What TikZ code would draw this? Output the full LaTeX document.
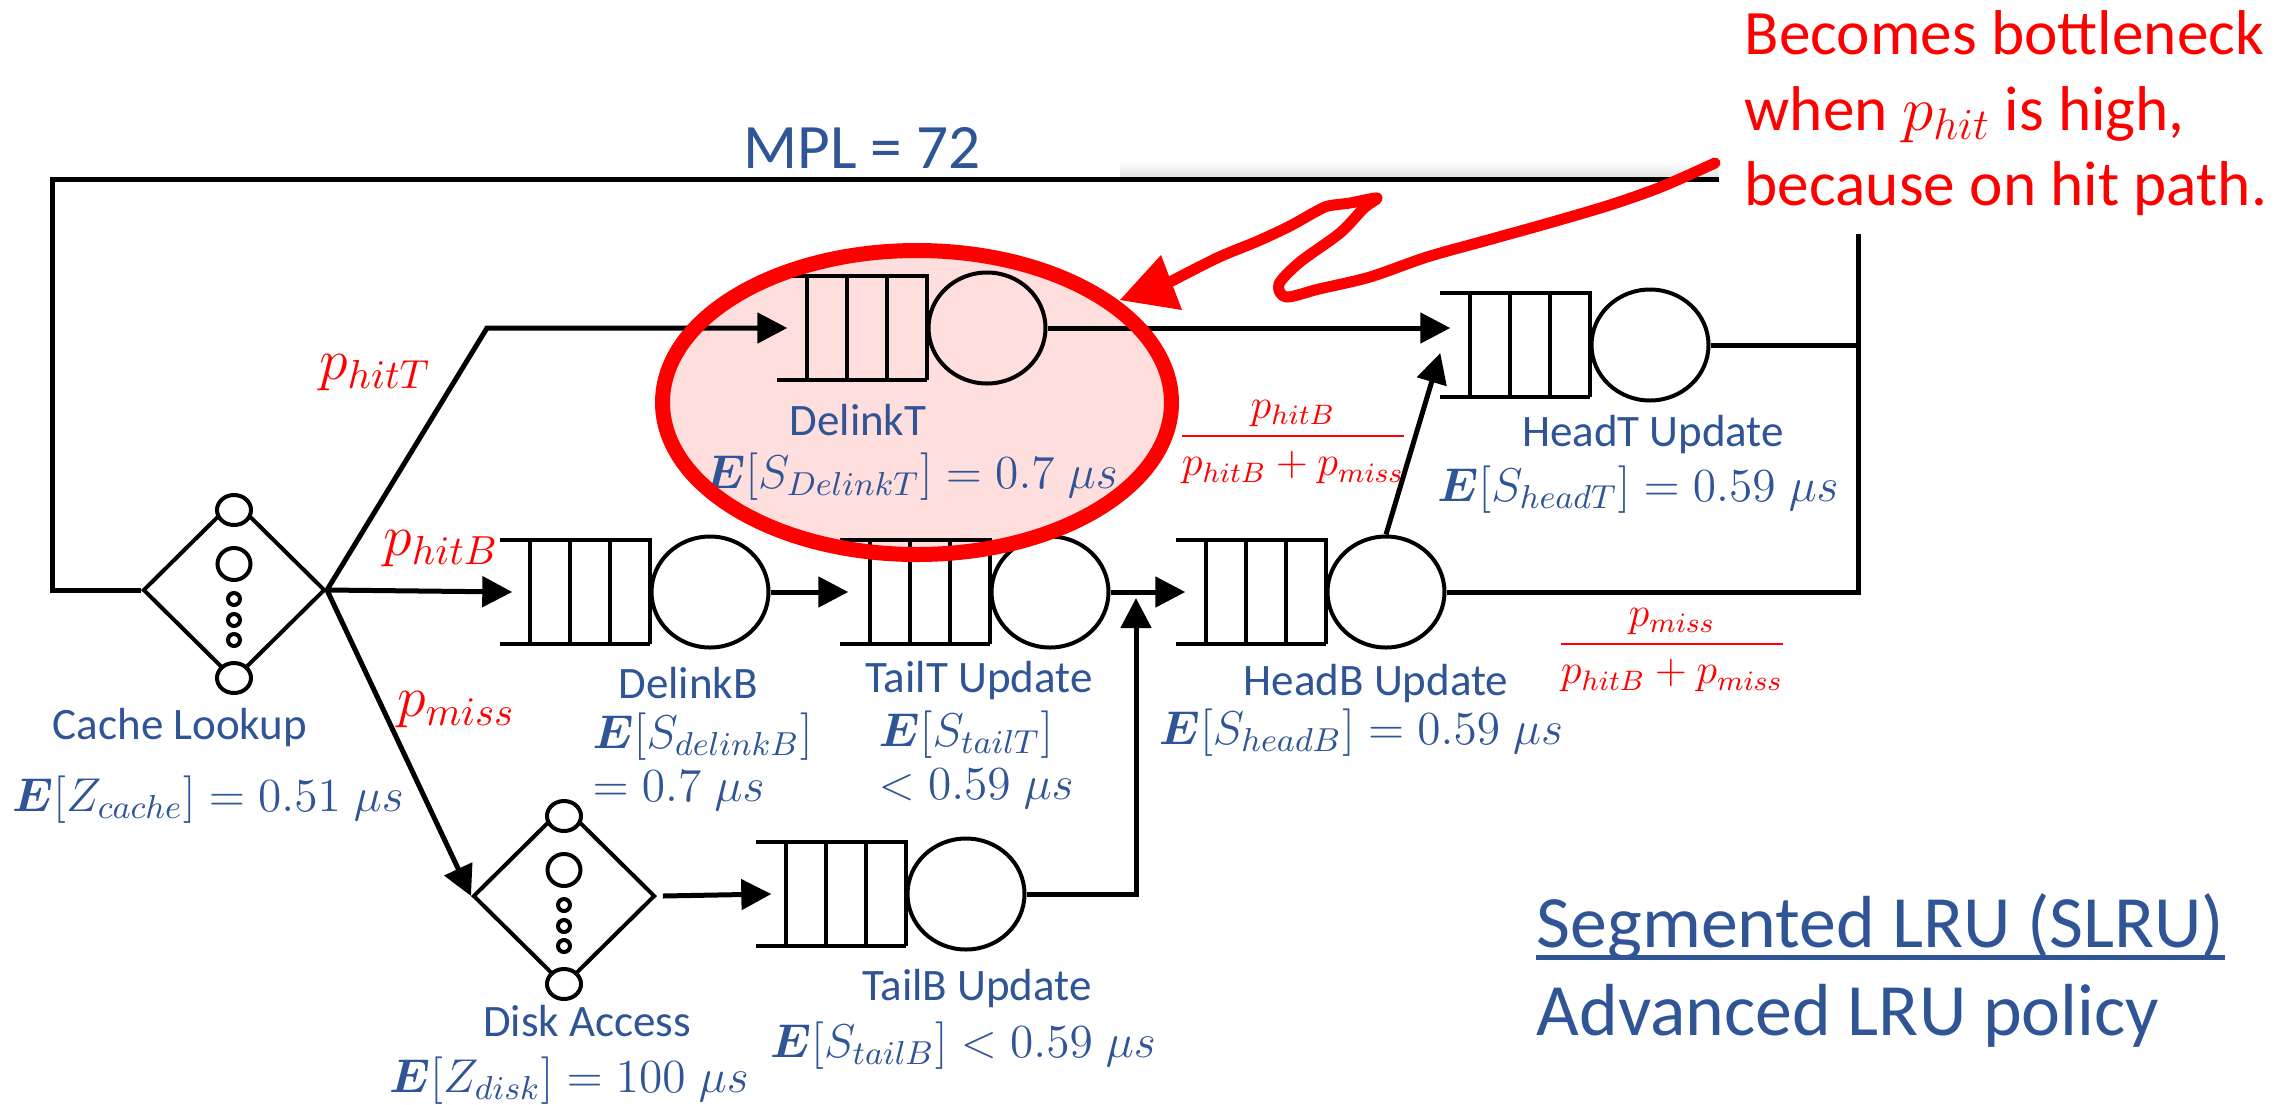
\RequirePackage{fix-cm}
\documentclass[tikz,border=0pt]{standalone}
\usepackage{amsmath}
\usepackage{fontspec}
\setmainfont{Carlito}
\usetikzlibrary{shapes.geometric,arrows.meta,calc}
\definecolor{tblue}{RGB}{47,85,151}
\definecolor{hlpink}{RGB}{255,222,222}
\newcommand{\Ebf}{\boldsymbol{E}}
\tikzset{
  conn/.style={line width=0.5mm},
  arr/.style={-{Triangle[length=3mm,width=3mm]}},
  qline/.style={line width=0.4mm},
  qbox/.style={rectangle,inner sep=0pt,minimum width=14.8mm,minimum height=10.3mm,draw=none},
  server/.style={ellipse,draw,line width=0.4mm,inner sep=0pt,minimum width=11.7mm,minimum height=11.1mm},
  dstation/.style={diamond,draw,line width=0.4mm,inner sep=0pt,minimum width=18.2mm,minimum height=18mm},
  lbl/.style={text=tblue,inner sep=0pt,font=\fontsize{12.8}{15}\selectfont},
  mlbl/.style={text=tblue,inner sep=0pt,font=\fontsize{13.5}{15}\selectfont},
  plbl/.style={text=red,inner sep=0pt,font=\fontsize{16.5}{19}\selectfont},
  flbl/.style={text=red,inner sep=0pt,font=\fontsize{12}{14}\selectfont},
  annot/.style={draw=red,line width=1.1mm,line cap=round,line join=round},
}
% queue station: name, left x of queue, centre y
\newcommand{\qstation}[3]{%
  \node[qbox] (#1q) at ({#2+74},{#3}) {};
  \draw[qline] (#1q.north west) -- (#1q.north east) -- (#1q.south east)
               (#1q.south west) -- (#1q.south east);
  \foreach \d in {30,70,110} {\draw[qline] ([xshift=\d*0.1mm]#1q.north west) -- ([xshift=\d*0.1mm]#1q.south west);}
  \node[server] (#1s) at ({#2+209},{#3}) {};
}
% delay station (diamond): name, centre x, centre y
\newcommand{\dlstation}[3]{%
  \node[dstation] (#1) at (#2,#3) {};
  \foreach \dy/\rx/\ry in {-80/1.7mm/1.5mm,-26/1.65mm/1.6mm,9/0.6mm/0.6mm,30/0.6mm/0.6mm,50/0.6mm/0.6mm,88/1.7mm/1.5mm}
    {\draw[qline,fill=white] (#2,{#3+\dy}) ellipse [x radius=\rx, y radius=\ry];}
}
\begin{document}
\begin{tikzpicture}[x=0.1mm,y=-0.1mm]
\useasboundingbox (0,0) rectangle (2295,1104);
\fill[white] (0,0) rectangle (2295,1104);
% faint shadow above the loop line
\shade[top color=white,bottom color=black!10] (1120,162) rectangle (1719,176);
% highlight fill (behind)
\fill[hlpink] (917,402.5) ellipse [x radius=25.45mm, y radius=15.2mm];

% stations
\dlstation{cache}{234}{590}
\dlstation{disk}{564}{896}
\qstation{delinkT}{778}{328}
\qstation{delinkB}{501}{592}
\qstation{tailT}{841}{592}
\qstation{headB}{1177}{592}
\qstation{headT}{1441}{345}
\qstation{tailB}{757}{894}

% helper coordinates
\coordinate (ttop) at (1719,179);
\coordinate (ltop) at (52,179);
\coordinate (rtop) at (1858,234);
\coordinate (bendT) at (487,328);
\coordinate (joinB) at (1136,592);
\coordinate (hTin) at (delinkTs.east -| headTq.west);

% connectors
\draw[conn] (ttop) -- (ltop) |- (cache.west);
\draw[conn,arr] (cache.east) -- (bendT) -- ($(delinkTq.west)+(10,0)$);
\draw[conn,arr] (cache.east) -- ($(delinkBq.west)+(12,0)$);
\draw[conn,arr] (cache.east) -- (disk.west);
\draw[conn,arr] (delinkBs.east) -- ($(tailTq.west)+(8,0)$);
\draw[conn,arr] (tailTs.east) -- ($(headBq.west)+(9,0)$);
\draw[conn,arr] (tailBs.east) -| ($(joinB)+(0,6)$);
\draw[conn,arr] ($(disk.east)+(6,0)$) -- ($(tailBq.west)+(15,0)$);
\draw[conn,arr] (delinkTs.east) -- ($(hTin)+(10,0)$);
\draw[conn,arr] (headBs.north) -- ($(headTq.west)+(0,8)$);
\draw[conn] (headTs.east) -- (headTs.east -| rtop);
\draw[conn] (headBs.east) -- (headBs.east -| rtop) -- (rtop);

% labels
\node[text=tblue,font=\fontsize{18}{21}\selectfont] (mpl) at (862,148) {MPL = 72};
\node[lbl] (cacheName) at (180,727) {Cache Lookup};
\node[mlbl] (cacheZ) at (208,800) {$\Ebf[Z_{cache}] = 0.51\;\mu s$};
\node[plbl] (phitT) at (375,373) {$p_{hitT}$};
\node[plbl] (phitB) at (441,549) {$p_{hitB}$};
\node[plbl] (pmiss) at (456,710) {$p_{miss}$};
\node[lbl] (delinkTname) at (858,420) {DelinkT};
\node[mlbl] (delinkTS) at (911,477) {$\Ebf[S_{DelinkT}] = 0.7\;\mu s$};
\node[lbl] (delinkBname) at (688,683) {DelinkB};
\node[mlbl,align=left,anchor=north west] (delinkBS) at (592,712) {$\Ebf[S_{delinkB}]$\\$= 0.7\;\mu s$};
\node[lbl] (tailTname) at (979,680) {TailT Update};
\node[mlbl,align=left,anchor=north west] (tailTS) at (878,710) {$\Ebf[S_{tailT}]$\\$< 0.59\;\mu s$};
\node[lbl] (headBname) at (1376,683) {HeadB Update};
\node[mlbl] (headBS) at (1361,733) {$\Ebf[S_{headB}] = 0.59\;\mu s$};
\node[lbl] (headTname) at (1653,434) {HeadT Update};
\node[mlbl] (headTS) at (1638,490) {$\Ebf[S_{headT}] = 0.59\;\mu s$};
\node[lbl] (diskName) at (587,1021) {Disk Access};
\node[mlbl] (diskZ) at (569,1081) {$\Ebf[Z_{disk}] = 100\;\mu s$};
\node[lbl] (tailBname) at (977,988) {TailB Update};
\node[mlbl] (tailBS) at (963,1046) {$\Ebf[S_{tailB}] < 0.59\;\mu s$};
\node[flbl] (fracT) at (1293,442) {$\dfrac{p_{hitB}}{p_{hitB}+p_{miss}}$};
\node[flbl] (fracB) at (1672,650) {$\dfrac{p_{miss}}{p_{hitB}+p_{miss}}$};

\node[text=tblue,font=\fontsize{21}{25}\selectfont,anchor=base west,inner sep=0pt] (seg) at (1536,947) {Segmented LRU (SLRU)};
\node[text=tblue,font=\fontsize{21}{25}\selectfont,anchor=base west,inner sep=0pt] (adv) at (1536,1035) {Advanced LRU policy};
\draw[tblue,line width=0.5mm] ([yshift=-1mm]seg.base west) -- ([yshift=-1mm]seg.base east);

% highlight ring and annotation
\draw[red,line width=1.5mm] (917,402.5) ellipse [x radius=25.45mm, y radius=15.2mm];
\node[text=red,font=\fontsize{18}{21.5}\selectfont,align=left,anchor=north west,inner sep=0pt] (note) at (1744,10)
  {Becomes bottleneck\\when $p_{hit}$ is high,\\because on hit path.};
\draw[annot] plot[smooth,tension=0.5] coordinates {(1715,163) (1661,187) (1610,205) (1549,223) (1488,240) (1427,257) (1370,277) (1319,289) (1286,297) (1279,284) (1300,262) (1340,233) (1364,208) (1377,198) (1350,203) (1328,206) (1315,212) (1290,226) (1258,241) (1217,258) (1168,283)};
\fill[red] (1120,300) -- (1161,255) -- (1182,310) -- cycle;
\end{tikzpicture}
\end{document}
